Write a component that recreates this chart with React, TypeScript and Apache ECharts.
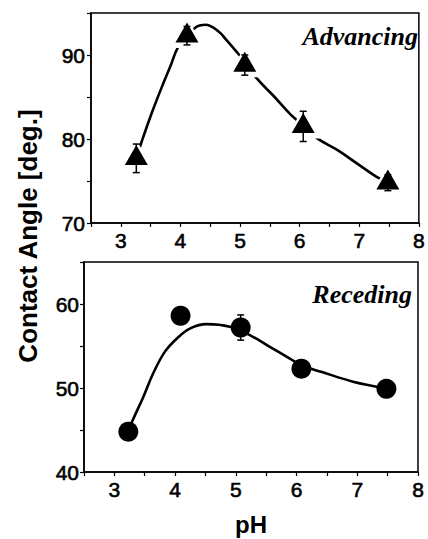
import React, { useEffect, useRef } from "react";
import * as echarts from "echarts";

// Advancing (top panel)
const advX = [3.26, 4.11, 5.08, 6.06, 7.48];
const advY = [77.7, 92.3, 88.8, 81.5, 74.8];
const advErr = [1.7, 1.1, 1.2, 1.8, 0.95];
const advCurveX = [3.25, 3.37, 3.53, 3.7, 3.84, 3.95, 4.11, 4.28, 4.42, 4.64, 4.77, 4.94, 5.08, 5.27, 5.58, 5.85, 6.08, 6.29, 6.63, 6.96, 7.29, 7.48];
const advCurveY = [77.6, 80.1, 83.3, 86.4, 88.8, 90.8, 92.3, 93.4, 93.6, 92.8, 91.8, 90.4, 89.2, 87.3, 85.0, 82.9, 81.5, 80.1, 78.7, 77.1, 75.5, 74.9];

// Receding (bottom panel)
const recX = [3.23, 4.09, 5.08, 6.08, 7.48];
const recY = [44.8, 58.6, 57.2, 52.3, 49.9];
const recErr = [0.5, 0.5, 1.5, 0.7, 0.5];
const recCurveX = [3.23, 3.28, 3.48, 3.64, 3.83, 4.03, 4.25, 4.52, 4.9, 5.23, 5.56, 5.89, 6.08, 6.42, 6.93, 7.32, 7.48];
const recCurveY = [44.8, 45.8, 49.0, 51.75, 54.3, 55.9, 57.1, 57.6, 57.3, 56.3, 54.9, 53.5, 52.7, 51.9, 50.75, 50.15, 49.9];

const xTickLabels = [3, 4, 5, 6, 7, 8];
const topYLabels = [70, 80, 90];
const botYLabels = [40, 50, 60];

const SANS = '"Liberation Sans", Arial, sans-serif';
const SERIF = '"Liberation Serif", "Times New Roman", serif';

function zip2(a: number[], b: number[]) {
  return a.map((v, i) => [v, b[i]]);
}
function zip3(a: number[], b: number[], c: number[]) {
  return a.map((v, i) => [v, b[i], c[i]]);
}

const errRender = (params: any, api: any) => {
  const x = api.value(0);
  const y = api.value(1);
  const e = api.value(2);
  const hi = api.coord([x, y + e]);
  const lo = api.coord([x, y - e]);
  const cw = 3.5;
  const st = { stroke: "#000", lineWidth: 1.5 };
  return {
    type: "group",
    children: [
      { type: "line", shape: { x1: hi[0], y1: hi[1], x2: lo[0], y2: lo[1] }, style: st },
      { type: "line", shape: { x1: hi[0] - cw, y1: hi[1], x2: hi[0] + cw, y2: hi[1] }, style: st },
      { type: "line", shape: { x1: lo[0] - cw, y1: lo[1], x2: lo[0] + cw, y2: lo[1] }, style: st },
    ],
  };
};

const labelStyle = {
  color: "#000",
  fontSize: 21,
  fontFamily: SANS,
  textBorderColor: "#000",
  textBorderWidth: 0.6,
};

function xAxisCfg(gridIndex: number, withName: boolean) {
  return {
    type: "value",
    gridIndex,
    min: 2.5,
    max: 8,
    interval: 0.5,
    splitLine: { show: false },
    axisLine: { show: true, onZero: false, lineStyle: { color: "#000", width: 1.5 } },
    axisTick: { show: true, inside: false, length: 4, lineStyle: { color: "#000", width: 1.2 } },
    axisLabel: {
      interval: 0,
      margin: 7,
      ...labelStyle,
      formatter: (v: number) => (xTickLabels.indexOf(v) >= 0 ? String(v) : ""),
    },
    ...(withName
      ? {
          name: "pH",
          nameLocation: "middle",
          nameGap: 40,
          nameTextStyle: { color: "#000", fontSize: 24, fontWeight: "bold", fontFamily: SANS },
        }
      : {}),
  };
}

function yAxisCfg(gridIndex: number, min: number, max: number, labels: number[], margin: number) {
  return {
    type: "value",
    gridIndex,
    min,
    max,
    interval: 5,
    splitLine: { show: false },
    axisLine: { show: true, onZero: false, lineStyle: { color: "#000", width: 1.5 } },
    axisTick: { show: true, inside: false, length: 4, lineStyle: { color: "#000", width: 1.2 } },
    axisLabel: {
      interval: 0,
      margin,
      ...labelStyle,
      formatter: (v: number) => (labels.indexOf(v) >= 0 ? String(v) : ""),
    },
  };
}

export default function App() {
  const ref = useRef<HTMLDivElement>(null);
  useEffect(() => {
    if (!ref.current) return;
    const chart = echarts.init(ref.current, null, { renderer: "svg" });
    chart.setOption({
      animation: false,
      backgroundColor: "#fff",
      grid: [
        { left: 91, top: 13, width: 332, height: 210, show: true, borderColor: "#000", borderWidth: 1.5, backgroundColor: "transparent" },
        { left: 84, top: 262, width: 334, height: 210, show: true, borderColor: "#000", borderWidth: 1.5, backgroundColor: "transparent" },
      ],
      xAxis: [xAxisCfg(0, false), xAxisCfg(1, true)],
      yAxis: [yAxisCfg(0, 70, 95, topYLabels, 6), yAxisCfg(1, 40, 65, botYLabels, 5)],
      series: [
        {
          type: "line",
          xAxisIndex: 0,
          yAxisIndex: 0,
          data: zip2(advCurveX, advCurveY),
          smooth: 0.4,
          showSymbol: false,
          symbol: "none",
          lineStyle: { color: "#000", width: 2.6 },
          z: 2,
        },
        {
          type: "scatter",
          xAxisIndex: 0,
          yAxisIndex: 0,
          data: zip2(advX, advY),
          symbol: "triangle",
          symbolSize: [34, 31],
          symbolOffset: [0, -3.3],
          itemStyle: { color: "#fff", opacity: 1 },
          z: 3,
        },
        {
          type: "custom",
          coordinateSystem: "cartesian2d",
          xAxisIndex: 0,
          yAxisIndex: 0,
          data: zip3(advX, advY, advErr),
          encode: { x: 0, y: 1 },
          renderItem: errRender,
          z: 4,
        },
        {
          type: "scatter",
          xAxisIndex: 0,
          yAxisIndex: 0,
          data: zip2(advX, advY),
          symbol: "triangle",
          symbolSize: [23, 20],
          symbolOffset: [0, -3.3],
          itemStyle: { color: "#000", opacity: 1 },
          z: 5,
        },
        {
          type: "line",
          xAxisIndex: 1,
          yAxisIndex: 1,
          data: zip2(recCurveX, recCurveY),
          smooth: 0.4,
          showSymbol: false,
          symbol: "none",
          lineStyle: { color: "#000", width: 2.6 },
          z: 2,
        },
        {
          type: "custom",
          coordinateSystem: "cartesian2d",
          xAxisIndex: 1,
          yAxisIndex: 1,
          data: zip3(recX, recY, recErr),
          encode: { x: 0, y: 1 },
          renderItem: errRender,
          z: 4,
        },
        {
          type: "scatter",
          xAxisIndex: 1,
          yAxisIndex: 1,
          data: zip2(recX, recY),
          symbol: "circle",
          symbolSize: 20,
          itemStyle: { color: "#000", opacity: 1 },
          z: 5,
        },
      ],
      graphic: [
        {
          type: "text",
          x: 28,
          y: 236,
          rotation: Math.PI / 2,
          style: {
            text: "Contact Angle [deg.]",
            fill: "#000",
            fontSize: 26,
            fontWeight: "bold",
            fontFamily: SANS,
            align: "center",
            verticalAlign: "middle",
          },
        },
        {
          type: "text",
          x: 418,
          y: 36.5,
          style: {
            text: "Advancing",
            fill: "#000",
            fontSize: 26,
            fontWeight: "bold",
            fontStyle: "italic",
            fontFamily: SERIF,
            align: "right",
            verticalAlign: "middle",
          },
        },
        {
          type: "text",
          x: 412,
          y: 294,
          style: {
            text: "Receding",
            fill: "#000",
            fontSize: 26,
            fontWeight: "bold",
            fontStyle: "italic",
            fontFamily: SERIF,
            align: "right",
            verticalAlign: "middle",
          },
        },
      ],
    });
    return () => chart.dispose();
  }, []);
  return (
    <div
      ref={ref}
      style={{ position: "fixed", left: 0, top: 0, width: 428, height: 539, background: "#fff" }}
    />
  );
}
